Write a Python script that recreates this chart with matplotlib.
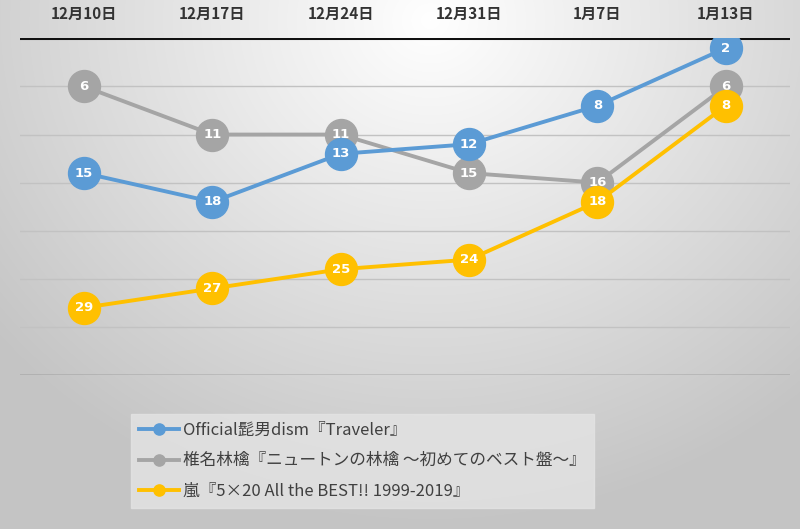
import numpy as np
import matplotlib
matplotlib.use("Agg")
import matplotlib.pyplot as plt

plt.rcParams['font.family'] = ['Noto Sans CJK JP', 'DejaVu Sans']

# 週ごとの順位
weeks = ["12月10日", "12月17日", "12月24日", "12月31日", "1月7日", "1月13日"]
official_rank = [15, 18, 13, 12, 8, 2]
shiina_rank = [6, 11, 11, 15, 16, 6]
arashi_rank = [29, 27, 25, 24, 18, 8]

names = ["Official髭男dism『Traveler』",
         "椎名林檎『ニュートンの林檎 〜初めてのベスト盤〜』",
         "嵐『5×20 All the BEST!! 1999-2019』"]
colors = ["#5b9bd5", "#a5a5a5", "#ffc000"]

fig = plt.figure(figsize=(8, 5.29), dpi=100)

# 背景のグラデーション
bg = fig.add_axes([0, 0, 1, 1], zorder=-10)
yy, xx = np.mgrid[0:529, 0:800]
d = np.sqrt(((xx - 430) / 1.0) ** 2 + ((yy - 20) / 0.9) ** 2)
g = 1.0 - np.clip(d / 560, 0, 1) * 0.23
bg.imshow(np.dstack([g, g, g]), aspect='auto', extent=[0, 1, 0, 1])
bg.axis('off')

ax = fig.add_axes([20 / 800, 1 - 375 / 529, 770 / 800, (375 - 38.4) / 529])
ax.set_facecolor('none')
x = np.arange(len(weeks))

series = [official_rank, shiina_rank, arashi_rank]
zorders = [4, 3, 5]
for vals, name, c, z in zip(series, names, colors, zorders):
    ax.plot(x, vals, color=c, lw=2.8, marker='o', markersize=23,
            markeredgecolor=c, label=name, zorder=z)
    for xi, v in zip(x, vals):
        ax.text(xi, v, str(v), ha='center', va='center', color='white',
                fontsize=9.5, fontweight='bold', zorder=z, family='DejaVu Sans')

ax.set_xlim(-0.5, 5.5)
ax.set_ylim(36, 1)
for r in range(6, 36, 5):
    ax.axhline(r, color='#c2c2c2', lw=1, zorder=1)
ax.axhline(36, color='#666666', lw=1, zorder=1)
ax.axhline(1, color='#111111', lw=2.2, zorder=2)

ax.xaxis.tick_top()
ax.set_xticks(x)
ax.set_xticklabels(weeks, fontsize=11, fontweight='bold', color='#333333')
ax.tick_params(axis='x', length=0, pad=12)
ax.set_yticks([])
for s in ax.spines.values():
    s.set_visible(False)

leg = fig.legend(loc='lower left', bbox_to_anchor=(131 / 800, 21 / 529),
                 markerscale=0.35, fontsize=12, frameon=True, fancybox=False,
                 handlelength=2.4, handletextpad=0.2, labelspacing=0.8,
                 borderpad=0.5, borderaxespad=0)
leg.get_frame().set_facecolor('#e4e4e4')
leg.get_frame().set_edgecolor('#e4e4e4')
leg.get_frame().set_alpha(0.8)
for t in leg.get_texts():
    t.set_color('#404040')

fig.savefig("out.png", dpi=100)
